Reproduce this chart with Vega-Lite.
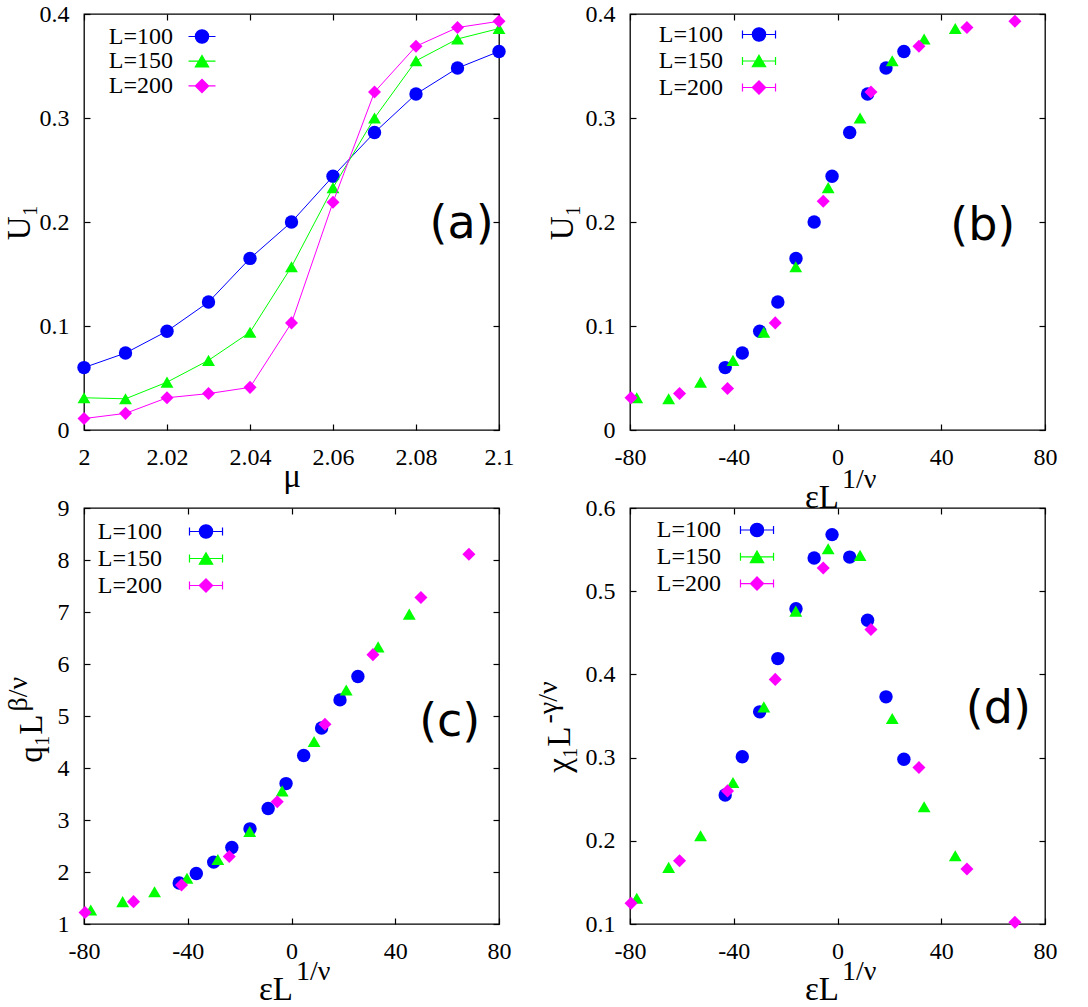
{
  "$schema": "https://vega.github.io/schema/vega-lite/v6.json",
  "background": "white",
  "padding": {"left": 2, "top": 1, "right": 0, "bottom": 0},
  "columns": 2,
  "spacing": {"row": 78, "column": 131},
  "bounds": "flush",
  "resolve": {
    "scale": {"color": "independent", "stroke": "independent", "shape": "independent"},
    "legend": {"color": "independent", "stroke": "independent", "shape": "independent"}
  },
  "config": {
    "view": {"stroke": "black", "strokeWidth": 1.3},
    "axis": {
      "labelFont": "Liberation Serif", "labelFontSize": 24, "labelColor": "black",
      "titleFont": "Liberation Serif", "titleFontSize": 33, "titleColor": "black", "titleFontWeight": "normal",
      "domain": false, "grid": false, "tickColor": "black", "tickWidth": 1.2,
      "labelFlush": false, "labelOverlap": false, "labelBound": false
    },
    "legend": {
      "orient": "none", "title": null, "padding": 0,
      "labelFont": "Liberation Serif", "labelFontSize": 24, "labelColor": "black", "labelAlign": "right", "labelLimit": 300,
      "symbolSize": 196, "symbolStrokeWidth": 1.2, "symbolOpacity": 1
    }
  },
  "datasets": {
    "a": [
      {"L": "L=100", "x": 2.00, "y": 0.060}, {"L": "L=100", "x": 2.01, "y": 0.074}, {"L": "L=100", "x": 2.02, "y": 0.095},
      {"L": "L=100", "x": 2.03, "y": 0.123}, {"L": "L=100", "x": 2.04, "y": 0.165}, {"L": "L=100", "x": 2.05, "y": 0.200},
      {"L": "L=100", "x": 2.06, "y": 0.244}, {"L": "L=100", "x": 2.07, "y": 0.286}, {"L": "L=100", "x": 2.08, "y": 0.323},
      {"L": "L=100", "x": 2.09, "y": 0.348}, {"L": "L=100", "x": 2.10, "y": 0.364},
      {"L": "L=150", "x": 2.00, "y": 0.031}, {"L": "L=150", "x": 2.01, "y": 0.030}, {"L": "L=150", "x": 2.02, "y": 0.046},
      {"L": "L=150", "x": 2.03, "y": 0.067}, {"L": "L=150", "x": 2.04, "y": 0.094}, {"L": "L=150", "x": 2.05, "y": 0.157},
      {"L": "L=150", "x": 2.06, "y": 0.233}, {"L": "L=150", "x": 2.07, "y": 0.300}, {"L": "L=150", "x": 2.08, "y": 0.355},
      {"L": "L=150", "x": 2.09, "y": 0.376}, {"L": "L=150", "x": 2.10, "y": 0.386},
      {"L": "L=200", "x": 2.00, "y": 0.011}, {"L": "L=200", "x": 2.01, "y": 0.016}, {"L": "L=200", "x": 2.02, "y": 0.031},
      {"L": "L=200", "x": 2.03, "y": 0.035}, {"L": "L=200", "x": 2.04, "y": 0.041}, {"L": "L=200", "x": 2.05, "y": 0.103},
      {"L": "L=200", "x": 2.06, "y": 0.219}, {"L": "L=200", "x": 2.07, "y": 0.325}, {"L": "L=200", "x": 2.08, "y": 0.369},
      {"L": "L=200", "x": 2.09, "y": 0.387}, {"L": "L=200", "x": 2.10, "y": 0.393}
    ],
    "b": [
      {"L": "L=100", "x": -43.3, "y": 0.060}, {"L": "L=100", "x": -36.7, "y": 0.074}, {"L": "L=100", "x": -30.0, "y": 0.095},
      {"L": "L=100", "x": -23.0, "y": 0.123}, {"L": "L=100", "x": -16.0, "y": 0.165}, {"L": "L=100", "x": -9.0, "y": 0.200},
      {"L": "L=100", "x": -2.1, "y": 0.244}, {"L": "L=100", "x": 4.7, "y": 0.286}, {"L": "L=100", "x": 11.6, "y": 0.323},
      {"L": "L=100", "x": 18.7, "y": 0.348}, {"L": "L=100", "x": 25.6, "y": 0.364},
      {"L": "L=150", "x": -77.4, "y": 0.031}, {"L": "L=150", "x": -65.1, "y": 0.030}, {"L": "L=150", "x": -52.8, "y": 0.046},
      {"L": "L=150", "x": -40.3, "y": 0.067}, {"L": "L=150", "x": -28.4, "y": 0.094}, {"L": "L=150", "x": -16.1, "y": 0.157},
      {"L": "L=150", "x": -3.6, "y": 0.233}, {"L": "L=150", "x": 8.7, "y": 0.300}, {"L": "L=150", "x": 21.1, "y": 0.355},
      {"L": "L=150", "x": 33.4, "y": 0.376}, {"L": "L=150", "x": 45.4, "y": 0.386},
      {"L": "L=200", "x": -79.6, "y": 0.031}, {"L": "L=200", "x": -60.9, "y": 0.035}, {"L": "L=200", "x": -42.4, "y": 0.040},
      {"L": "L=200", "x": -24.0, "y": 0.103}, {"L": "L=200", "x": -5.5, "y": 0.220}, {"L": "L=200", "x": 12.9, "y": 0.325},
      {"L": "L=200", "x": 31.4, "y": 0.369}, {"L": "L=200", "x": 49.9, "y": 0.387}, {"L": "L=200", "x": 68.4, "y": 0.393}
    ],
    "c": [
      {"L": "L=100", "x": -43.3, "y": 1.79}, {"L": "L=100", "x": -36.7, "y": 1.97}, {"L": "L=100", "x": -30.0, "y": 2.19},
      {"L": "L=100", "x": -23.0, "y": 2.47}, {"L": "L=100", "x": -16.0, "y": 2.83}, {"L": "L=100", "x": -9.0, "y": 3.22},
      {"L": "L=100", "x": -2.1, "y": 3.70}, {"L": "L=100", "x": 4.7, "y": 4.24}, {"L": "L=100", "x": 11.6, "y": 4.77},
      {"L": "L=100", "x": 18.7, "y": 5.31}, {"L": "L=100", "x": 25.6, "y": 5.76},
      {"L": "L=150", "x": -77.4, "y": 1.27}, {"L": "L=150", "x": -65.1, "y": 1.43}, {"L": "L=150", "x": -52.8, "y": 1.62},
      {"L": "L=150", "x": -40.3, "y": 1.88}, {"L": "L=150", "x": -28.4, "y": 2.24}, {"L": "L=150", "x": -16.1, "y": 2.78},
      {"L": "L=150", "x": -3.6, "y": 3.56}, {"L": "L=150", "x": 8.7, "y": 4.51}, {"L": "L=150", "x": 21.1, "y": 5.50},
      {"L": "L=150", "x": 33.4, "y": 6.33}, {"L": "L=150", "x": 45.4, "y": 6.96},
      {"L": "L=200", "x": -79.6, "y": 1.22}, {"L": "L=200", "x": -60.9, "y": 1.43}, {"L": "L=200", "x": -42.4, "y": 1.75},
      {"L": "L=200", "x": -24.0, "y": 2.30}, {"L": "L=200", "x": -5.5, "y": 3.35}, {"L": "L=200", "x": 12.9, "y": 4.84},
      {"L": "L=200", "x": 31.4, "y": 6.18}, {"L": "L=200", "x": 49.9, "y": 7.28}, {"L": "L=200", "x": 68.4, "y": 8.11}
    ],
    "d": [
      {"L": "L=100", "x": -43.3, "y": 0.255}, {"L": "L=100", "x": -36.7, "y": 0.301}, {"L": "L=100", "x": -30.0, "y": 0.355},
      {"L": "L=100", "x": -23.0, "y": 0.419}, {"L": "L=100", "x": -16.0, "y": 0.479}, {"L": "L=100", "x": -9.0, "y": 0.540},
      {"L": "L=100", "x": -2.1, "y": 0.568}, {"L": "L=100", "x": 4.7, "y": 0.541}, {"L": "L=100", "x": 11.6, "y": 0.465},
      {"L": "L=100", "x": 18.7, "y": 0.373}, {"L": "L=100", "x": 25.6, "y": 0.298},
      {"L": "L=150", "x": -77.4, "y": 0.131}, {"L": "L=150", "x": -65.1, "y": 0.168}, {"L": "L=150", "x": -52.8, "y": 0.206},
      {"L": "L=150", "x": -40.3, "y": 0.270}, {"L": "L=150", "x": -28.4, "y": 0.361}, {"L": "L=150", "x": -16.1, "y": 0.476},
      {"L": "L=150", "x": -3.6, "y": 0.551}, {"L": "L=150", "x": 8.7, "y": 0.543}, {"L": "L=150", "x": 21.1, "y": 0.347},
      {"L": "L=150", "x": 33.4, "y": 0.241}, {"L": "L=150", "x": 45.4, "y": 0.182},
      {"L": "L=200", "x": -79.6, "y": 0.125}, {"L": "L=200", "x": -60.9, "y": 0.176}, {"L": "L=200", "x": -42.4, "y": 0.260},
      {"L": "L=200", "x": -24.0, "y": 0.394}, {"L": "L=200", "x": -5.5, "y": 0.528}, {"L": "L=200", "x": 12.9, "y": 0.454},
      {"L": "L=200", "x": 31.4, "y": 0.288}, {"L": "L=200", "x": 49.9, "y": 0.166}, {"L": "L=200", "x": 68.4, "y": 0.102}
    ]
  },
  "concat": [
    {
      "width": 415, "height": 416,
      "data": {"name": "a"},
      "resolve": {"axis": {"x": "independent", "y": "independent"}},
      "layer": [
        {
          "mark": {"type": "point", "opacity": 0},
          "encoding": {
            "x": {"field": "x", "type": "quantitative", "scale": {"domain": [2, 2.1], "nice": false, "zero": false},
              "axis": {"orient": "bottom", "values": [2, 2.02, 2.04, 2.06, 2.08, 2.1], "labelExpr": "toString(datum.value)", "ticks": false, "labelPadding": 15,
                "title": "μ", "titleAlign": "center", "titleBaseline": "alphabetic", "titleX": 207.5, "titleY": 56}},
            "y": {"field": "y", "type": "quantitative", "scale": {"domain": [0, 0.4], "nice": false, "zero": false},
              "axis": {"orient": "left", "values": [0, 0.1, 0.2, 0.3, 0.4], "labelExpr": "toString(datum.value)", "ticks": false, "labelPadding": 15,
                "title": "U₁", "titleAlign": "center", "titleBaseline": "alphabetic", "titleX": -55, "titleY": 208}}
          }
        },
        {
          "mark": {"type": "point", "opacity": 0},
          "encoding": {
            "x": {"field": "x", "type": "quantitative", "scale": {"domain": [2, 2.1], "nice": false, "zero": false},
              "axis": {"orient": "top", "values": [2, 2.02, 2.04, 2.06, 2.08, 2.1], "labels": false, "tickSize": -6, "title": null}},
            "y": {"field": "y", "type": "quantitative", "scale": {"domain": [0, 0.4], "nice": false, "zero": false},
              "axis": {"orient": "right", "values": [0, 0.1, 0.2, 0.3, 0.4], "labels": false, "tickSize": -6, "title": null}}
          }
        },
        {
          "mark": {"type": "point", "opacity": 0},
          "encoding": {
            "x": {"field": "x", "type": "quantitative", "scale": {"domain": [2, 2.1], "nice": false, "zero": false},
              "axis": {"orient": "bottom", "values": [2, 2.02, 2.04, 2.06, 2.08, 2.1], "labels": false, "tickSize": -6, "title": null}},
            "y": {"field": "y", "type": "quantitative", "scale": {"domain": [0, 0.4], "nice": false, "zero": false},
              "axis": {"orient": "left", "values": [0, 0.1, 0.2, 0.3, 0.4], "labels": false, "tickSize": -6, "title": null}}
          }
        },
        {
          "transform": [{"filter": "false"}],
          "mark": {"type": "point", "filled": true},
          "encoding": {
            "x": {"field": "x", "type": "quantitative", "scale": {"domain": [2, 2.1], "nice": false, "zero": false}, "axis": null},
            "y": {"field": "y", "type": "quantitative", "scale": {"domain": [0, 0.4], "nice": false, "zero": false}, "axis": null},
            "color": {"field": "L", "type": "nominal", "scale": {"domain": ["L=100", "L=150", "L=200"], "range": ["#0000ff", "#00ff00", "#ff00ff"]},
              "legend": {"legendX": 106, "legendY": 10.5, "rowPadding": 0.7, "labelOffset": -41}},
            "stroke": {"field": "L", "type": "nominal", "scale": {"domain": ["L=100", "L=150", "L=200"], "range": ["#0000ff", "#00ff00", "#ff00ff"]}},
            "shape": {"field": "L", "type": "nominal", "scale": {"domain": ["L=100", "L=150", "L=200"], "range": [
              "M-1.93,0H1.93M-0.95,0A0.95,0.95,0,1,0,0.95,0A0.95,0.95,0,1,0,-0.95,0Z",
              "M-1.93,0H1.93M0,-0.82L0.95,0.82L-0.95,0.82Z",
              "M-1.93,0H1.93M-0.95,0L0,-0.95L0.95,0L0,0.95Z"]}}
          }
        },
        {
          "transform": [{"filter": "datum.L === 'L=100'"}],
          "mark": {"type": "line", "strokeWidth": 1, "color": "#0000ff"},
          "encoding": {
            "x": {"field": "x", "type": "quantitative", "scale": {"domain": [2, 2.1], "nice": false, "zero": false}, "axis": null},
            "y": {"field": "y", "type": "quantitative", "scale": {"domain": [0, 0.4], "nice": false, "zero": false}, "axis": null}
          }
        },
        {
          "transform": [{"filter": "datum.L === 'L=100'"}],
          "mark": {"type": "point", "filled": true, "size": 180, "opacity": 1, "shape": "circle", "color": "#0000ff"},
          "encoding": {
            "x": {"field": "x", "type": "quantitative", "scale": {"domain": [2, 2.1], "nice": false, "zero": false}, "axis": null},
            "y": {"field": "y", "type": "quantitative", "scale": {"domain": [0, 0.4], "nice": false, "zero": false}, "axis": null}
          }
        },
        {
          "transform": [{"filter": "datum.L === 'L=150'"}],
          "mark": {"type": "line", "strokeWidth": 1, "color": "#00ff00"},
          "encoding": {
            "x": {"field": "x", "type": "quantitative", "scale": {"domain": [2, 2.1], "nice": false, "zero": false}, "axis": null},
            "y": {"field": "y", "type": "quantitative", "scale": {"domain": [0, 0.4], "nice": false, "zero": false}, "axis": null}
          }
        },
        {
          "transform": [{"filter": "datum.L === 'L=150'"}],
          "mark": {"type": "point", "filled": true, "size": 165, "opacity": 1, "shape": "triangle-up", "color": "#00ff00"},
          "encoding": {
            "x": {"field": "x", "type": "quantitative", "scale": {"domain": [2, 2.1], "nice": false, "zero": false}, "axis": null},
            "y": {"field": "y", "type": "quantitative", "scale": {"domain": [0, 0.4], "nice": false, "zero": false}, "axis": null}
          }
        },
        {
          "transform": [{"filter": "datum.L === 'L=200'"}],
          "mark": {"type": "line", "strokeWidth": 1, "color": "#ff00ff"},
          "encoding": {
            "x": {"field": "x", "type": "quantitative", "scale": {"domain": [2, 2.1], "nice": false, "zero": false}, "axis": null},
            "y": {"field": "y", "type": "quantitative", "scale": {"domain": [0, 0.4], "nice": false, "zero": false}, "axis": null}
          }
        },
        {
          "transform": [{"filter": "datum.L === 'L=200'"}],
          "mark": {"type": "point", "filled": true, "size": 170, "opacity": 1, "shape": "diamond", "color": "#ff00ff"},
          "encoding": {
            "x": {"field": "x", "type": "quantitative", "scale": {"domain": [2, 2.1], "nice": false, "zero": false}, "axis": null},
            "y": {"field": "y", "type": "quantitative", "scale": {"domain": [0, 0.4], "nice": false, "zero": false}, "axis": null}
          }
        },
        {
          "data": {"values": [{}]},
          "mark": {"type": "text", "font": "DejaVu Sans", "fontSize": 46, "align": "center", "baseline": "middle", "color": "black"},
          "encoding": {
            "x": {"datum": 2.091, "type": "quantitative", "scale": {"domain": [2, 2.1], "nice": false, "zero": false}, "axis": null},
            "y": {"datum": 0.198, "type": "quantitative", "scale": {"domain": [0, 0.4], "nice": false, "zero": false}, "axis": null},
            "text": {"value": "(a)"}
          }
        }
      ]
    },
    {
      "width": 415, "height": 416,
      "data": {"name": "b"},
      "resolve": {"axis": {"x": "independent", "y": "independent"}},
      "layer": [
        {
          "mark": {"type": "point", "opacity": 0},
          "encoding": {
            "x": {"field": "x", "type": "quantitative", "scale": {"domain": [-80, 80], "nice": false, "zero": false},
              "axis": {"orient": "bottom", "values": [-80, -40, 0, 40, 80], "labelExpr": "toString(datum.value)", "ticks": false, "labelPadding": 15,
                "title": "εL", "titleAlign": "right", "titleBaseline": "alphabetic", "titleX": 208.5, "titleY": 77}},
            "y": {"field": "y", "type": "quantitative", "scale": {"domain": [0, 0.4], "nice": false, "zero": false},
              "axis": {"orient": "left", "values": [0, 0.1, 0.2, 0.3, 0.4], "labelExpr": "toString(datum.value)", "ticks": false, "labelPadding": 15,
                "title": "U₁", "titleAlign": "center", "titleBaseline": "alphabetic", "titleX": -58, "titleY": 208}}
          }
        },
        {
          "mark": {"type": "point", "opacity": 0},
          "encoding": {
            "x": {"field": "x", "type": "quantitative", "scale": {"domain": [-80, 80], "nice": false, "zero": false},
              "axis": {"orient": "top", "values": [-80, -40, 0, 40, 80], "labels": false, "tickSize": -6, "title": null}},
            "y": {"field": "y", "type": "quantitative", "scale": {"domain": [0, 0.4], "nice": false, "zero": false},
              "axis": {"orient": "right", "values": [0, 0.1, 0.2, 0.3, 0.4], "labels": false, "tickSize": -6, "title": null}}
          }
        },
        {
          "mark": {"type": "point", "opacity": 0},
          "encoding": {
            "x": {"field": "x", "type": "quantitative", "scale": {"domain": [-80, 80], "nice": false, "zero": false},
              "axis": {"orient": "bottom", "values": [-80, -40, 0, 40, 80], "labels": false, "tickSize": -6,
                "title": "1/ν", "titleFontSize": 28, "titleAlign": "left", "titleBaseline": "alphabetic", "titleX": 211.5, "titleY": 57}},
            "y": {"field": "y", "type": "quantitative", "scale": {"domain": [0, 0.4], "nice": false, "zero": false},
              "axis": {"orient": "left", "values": [0, 0.1, 0.2, 0.3, 0.4], "labels": false, "tickSize": -6, "title": null}}
          }
        },
        {
          "transform": [{"filter": "false"}],
          "mark": {"type": "point", "filled": true},
          "encoding": {
            "x": {"field": "x", "type": "quantitative", "scale": {"domain": [-80, 80], "nice": false, "zero": false}, "axis": null},
            "y": {"field": "y", "type": "quantitative", "scale": {"domain": [0, 0.4], "nice": false, "zero": false}, "axis": null},
            "color": {"field": "L", "type": "nominal", "scale": {"domain": ["L=100", "L=150", "L=200"], "range": ["#0000ff", "#00ff00", "#ff00ff"]},
              "legend": {"legendX": 117, "legendY": 8.5, "rowPadding": 2.5, "labelOffset": -48}},
            "stroke": {"field": "L", "type": "nominal", "scale": {"domain": ["L=100", "L=150", "L=200"], "range": ["#0000ff", "#00ff00", "#ff00ff"]}},
            "shape": {"field": "L", "type": "nominal", "scale": {"domain": ["L=100", "L=150", "L=200"], "range": [
              "M-2.36,-0.57V0.57M-2.36,0H2.36M2.36,-0.57V0.57M-0.95,0A0.95,0.95,0,1,0,0.95,0A0.95,0.95,0,1,0,-0.95,0Z",
              "M-2.36,-0.57V0.57M-2.36,0H2.36M2.36,-0.57V0.57M0,-0.82L0.95,0.82L-0.95,0.82Z",
              "M-2.36,-0.57V0.57M-2.36,0H2.36M2.36,-0.57V0.57M-0.95,0L0,-0.95L0.95,0L0,0.95Z"]}}
          }
        },
        {
          "transform": [{"filter": "datum.L === 'L=100'"}],
          "mark": {"type": "point", "filled": true, "size": 180, "opacity": 1, "shape": "circle", "color": "#0000ff"},
          "encoding": {
            "x": {"field": "x", "type": "quantitative", "scale": {"domain": [-80, 80], "nice": false, "zero": false}, "axis": null},
            "y": {"field": "y", "type": "quantitative", "scale": {"domain": [0, 0.4], "nice": false, "zero": false}, "axis": null}
          }
        },
        {
          "transform": [{"filter": "datum.L === 'L=150'"}],
          "mark": {"type": "point", "filled": true, "size": 165, "opacity": 1, "shape": "triangle-up", "color": "#00ff00"},
          "encoding": {
            "x": {"field": "x", "type": "quantitative", "scale": {"domain": [-80, 80], "nice": false, "zero": false}, "axis": null},
            "y": {"field": "y", "type": "quantitative", "scale": {"domain": [0, 0.4], "nice": false, "zero": false}, "axis": null}
          }
        },
        {
          "transform": [{"filter": "datum.L === 'L=200'"}],
          "mark": {"type": "point", "filled": true, "size": 170, "opacity": 1, "shape": "diamond", "color": "#ff00ff"},
          "encoding": {
            "x": {"field": "x", "type": "quantitative", "scale": {"domain": [-80, 80], "nice": false, "zero": false}, "axis": null},
            "y": {"field": "y", "type": "quantitative", "scale": {"domain": [0, 0.4], "nice": false, "zero": false}, "axis": null}
          }
        },
        {
          "data": {"values": [{}]},
          "mark": {"type": "text", "font": "DejaVu Sans", "fontSize": 46, "align": "center", "baseline": "middle", "color": "black"},
          "encoding": {
            "x": {"datum": 56, "type": "quantitative", "scale": {"domain": [-80, 80], "nice": false, "zero": false}, "axis": null},
            "y": {"datum": 0.196, "type": "quantitative", "scale": {"domain": [0, 0.4], "nice": false, "zero": false}, "axis": null},
            "text": {"value": "(b)"}
          }
        }
      ]
    },
    {
      "width": 415, "height": 416,
      "data": {"name": "c"},
      "resolve": {"axis": {"x": "independent", "y": "independent"}},
      "layer": [
        {
          "mark": {"type": "point", "opacity": 0},
          "encoding": {
            "x": {"field": "x", "type": "quantitative", "scale": {"domain": [-80, 80], "nice": false, "zero": false},
              "axis": {"orient": "bottom", "values": [-80, -40, 0, 40, 80], "labelExpr": "toString(datum.value)", "ticks": false, "labelPadding": 15,
                "title": "εL", "titleAlign": "right", "titleBaseline": "alphabetic", "titleX": 208.5, "titleY": 75}},
            "y": {"field": "y", "type": "quantitative", "scale": {"domain": [1, 9], "nice": false, "zero": false},
              "axis": {"orient": "left", "values": [1, 2, 3, 4, 5, 6, 7, 8, 9], "labelExpr": "toString(datum.value)", "ticks": false, "labelPadding": 15,
                "title": "q₁L", "titleAlign": "right", "titleBaseline": "alphabetic", "titleX": -43, "titleY": 206}}
          }
        },
        {
          "mark": {"type": "point", "opacity": 0},
          "encoding": {
            "x": {"field": "x", "type": "quantitative", "scale": {"domain": [-80, 80], "nice": false, "zero": false},
              "axis": {"orient": "top", "values": [-80, -40, 0, 40, 80], "labels": false, "tickSize": -6, "title": null}},
            "y": {"field": "y", "type": "quantitative", "scale": {"domain": [1, 9], "nice": false, "zero": false},
              "axis": {"orient": "right", "values": [1, 2, 3, 4, 5, 6, 7, 8, 9], "labels": false, "tickSize": -6, "title": null}}
          }
        },
        {
          "mark": {"type": "point", "opacity": 0},
          "encoding": {
            "x": {"field": "x", "type": "quantitative", "scale": {"domain": [-80, 80], "nice": false, "zero": false},
              "axis": {"orient": "bottom", "values": [-80, -40, 0, 40, 80], "labels": false, "tickSize": -6,
                "title": "1/ν", "titleFontSize": 28, "titleAlign": "left", "titleBaseline": "alphabetic", "titleX": 211.5, "titleY": 55}},
            "y": {"field": "y", "type": "quantitative", "scale": {"domain": [1, 9], "nice": false, "zero": false},
              "axis": {"orient": "left", "values": [1, 2, 3, 4, 5, 6, 7, 8, 9], "labels": false, "tickSize": -6,
                "title": "β/ν", "titleFontSize": 28, "titleAlign": "left", "titleBaseline": "alphabetic", "titleX": -58, "titleY": 203}}
          }
        },
        {
          "transform": [{"filter": "false"}],
          "mark": {"type": "point", "filled": true},
          "encoding": {
            "x": {"field": "x", "type": "quantitative", "scale": {"domain": [-80, 80], "nice": false, "zero": false}, "axis": null},
            "y": {"field": "y", "type": "quantitative", "scale": {"domain": [1, 9], "nice": false, "zero": false}, "axis": null},
            "color": {"field": "L", "type": "nominal", "scale": {"domain": ["L=100", "L=150", "L=200"], "range": ["#0000ff", "#00ff00", "#ff00ff"]},
              "legend": {"legendX": 110, "legendY": 11.5, "rowPadding": 3, "labelOffset": -56}},
            "stroke": {"field": "L", "type": "nominal", "scale": {"domain": ["L=100", "L=150", "L=200"], "range": ["#0000ff", "#00ff00", "#ff00ff"]}},
            "shape": {"field": "L", "type": "nominal", "scale": {"domain": ["L=100", "L=150", "L=200"], "range": [
              "M-2.36,-0.57V0.57M-2.36,0H2.36M2.36,-0.57V0.57M-0.95,0A0.95,0.95,0,1,0,0.95,0A0.95,0.95,0,1,0,-0.95,0Z",
              "M-2.36,-0.57V0.57M-2.36,0H2.36M2.36,-0.57V0.57M0,-0.82L0.95,0.82L-0.95,0.82Z",
              "M-2.36,-0.57V0.57M-2.36,0H2.36M2.36,-0.57V0.57M-0.95,0L0,-0.95L0.95,0L0,0.95Z"]}}
          }
        },
        {
          "transform": [{"filter": "datum.L === 'L=100'"}],
          "mark": {"type": "point", "filled": true, "size": 180, "opacity": 1, "shape": "circle", "color": "#0000ff"},
          "encoding": {
            "x": {"field": "x", "type": "quantitative", "scale": {"domain": [-80, 80], "nice": false, "zero": false}, "axis": null},
            "y": {"field": "y", "type": "quantitative", "scale": {"domain": [1, 9], "nice": false, "zero": false}, "axis": null}
          }
        },
        {
          "transform": [{"filter": "datum.L === 'L=150'"}],
          "mark": {"type": "point", "filled": true, "size": 165, "opacity": 1, "shape": "triangle-up", "color": "#00ff00"},
          "encoding": {
            "x": {"field": "x", "type": "quantitative", "scale": {"domain": [-80, 80], "nice": false, "zero": false}, "axis": null},
            "y": {"field": "y", "type": "quantitative", "scale": {"domain": [1, 9], "nice": false, "zero": false}, "axis": null}
          }
        },
        {
          "transform": [{"filter": "datum.L === 'L=200'"}],
          "mark": {"type": "point", "filled": true, "size": 170, "opacity": 1, "shape": "diamond", "color": "#ff00ff"},
          "encoding": {
            "x": {"field": "x", "type": "quantitative", "scale": {"domain": [-80, 80], "nice": false, "zero": false}, "axis": null},
            "y": {"field": "y", "type": "quantitative", "scale": {"domain": [1, 9], "nice": false, "zero": false}, "axis": null}
          }
        },
        {
          "data": {"values": [{}]},
          "mark": {"type": "text", "font": "DejaVu Sans", "fontSize": 46, "align": "center", "baseline": "middle", "color": "black"},
          "encoding": {
            "x": {"datum": 61, "type": "quantitative", "scale": {"domain": [-80, 80], "nice": false, "zero": false}, "axis": null},
            "y": {"datum": 4.89, "type": "quantitative", "scale": {"domain": [1, 9], "nice": false, "zero": false}, "axis": null},
            "text": {"value": "(c)"}
          }
        }
      ]
    },
    {
      "width": 415, "height": 416,
      "data": {"name": "d"},
      "resolve": {"axis": {"x": "independent", "y": "independent"}},
      "layer": [
        {
          "mark": {"type": "point", "opacity": 0},
          "encoding": {
            "x": {"field": "x", "type": "quantitative", "scale": {"domain": [-80, 80], "nice": false, "zero": false},
              "axis": {"orient": "bottom", "values": [-80, -40, 0, 40, 80], "labelExpr": "toString(datum.value)", "ticks": false, "labelPadding": 15,
                "title": "εL", "titleAlign": "right", "titleBaseline": "alphabetic", "titleX": 208.5, "titleY": 75}},
            "y": {"field": "y", "type": "quantitative", "scale": {"domain": [0.1, 0.6], "nice": false, "zero": false},
              "axis": {"orient": "left", "values": [0.1, 0.2, 0.3, 0.4, 0.5, 0.6], "labelExpr": "toString(datum.value)", "ticks": false, "labelPadding": 15,
                "title": "χ₁L", "titleAlign": "right", "titleBaseline": "alphabetic", "titleX": -61, "titleY": 218}}
          }
        },
        {
          "mark": {"type": "point", "opacity": 0},
          "encoding": {
            "x": {"field": "x", "type": "quantitative", "scale": {"domain": [-80, 80], "nice": false, "zero": false},
              "axis": {"orient": "top", "values": [-80, -40, 0, 40, 80], "labels": false, "tickSize": -6, "title": null}},
            "y": {"field": "y", "type": "quantitative", "scale": {"domain": [0.1, 0.6], "nice": false, "zero": false},
              "axis": {"orient": "right", "values": [0.1, 0.2, 0.3, 0.4, 0.5, 0.6], "labels": false, "tickSize": -6, "title": null}}
          }
        },
        {
          "mark": {"type": "point", "opacity": 0},
          "encoding": {
            "x": {"field": "x", "type": "quantitative", "scale": {"domain": [-80, 80], "nice": false, "zero": false},
              "axis": {"orient": "bottom", "values": [-80, -40, 0, 40, 80], "labels": false, "tickSize": -6,
                "title": "1/ν", "titleFontSize": 28, "titleAlign": "left", "titleBaseline": "alphabetic", "titleX": 211.5, "titleY": 55}},
            "y": {"field": "y", "type": "quantitative", "scale": {"domain": [0.1, 0.6], "nice": false, "zero": false},
              "axis": {"orient": "left", "values": [0.1, 0.2, 0.3, 0.4, 0.5, 0.6], "labels": false, "tickSize": -6,
                "title": "-γ/ν", "titleFontSize": 28, "titleAlign": "left", "titleBaseline": "alphabetic", "titleX": -74, "titleY": 215}}
          }
        },
        {
          "transform": [{"filter": "false"}],
          "mark": {"type": "point", "filled": true},
          "encoding": {
            "x": {"field": "x", "type": "quantitative", "scale": {"domain": [-80, 80], "nice": false, "zero": false}, "axis": null},
            "y": {"field": "y", "type": "quantitative", "scale": {"domain": [0.1, 0.6], "nice": false, "zero": false}, "axis": null},
            "color": {"field": "L", "type": "nominal", "scale": {"domain": ["L=100", "L=150", "L=200"], "range": ["#0000ff", "#00ff00", "#ff00ff"]},
              "legend": {"legendX": 115, "legendY": 10, "rowPadding": 2.8, "labelOffset": -48}},
            "stroke": {"field": "L", "type": "nominal", "scale": {"domain": ["L=100", "L=150", "L=200"], "range": ["#0000ff", "#00ff00", "#ff00ff"]}},
            "shape": {"field": "L", "type": "nominal", "scale": {"domain": ["L=100", "L=150", "L=200"], "range": [
              "M-2.36,-0.57V0.57M-2.36,0H2.36M2.36,-0.57V0.57M-0.95,0A0.95,0.95,0,1,0,0.95,0A0.95,0.95,0,1,0,-0.95,0Z",
              "M-2.36,-0.57V0.57M-2.36,0H2.36M2.36,-0.57V0.57M0,-0.82L0.95,0.82L-0.95,0.82Z",
              "M-2.36,-0.57V0.57M-2.36,0H2.36M2.36,-0.57V0.57M-0.95,0L0,-0.95L0.95,0L0,0.95Z"]}}
          }
        },
        {
          "transform": [{"filter": "datum.L === 'L=100'"}],
          "mark": {"type": "point", "filled": true, "size": 180, "opacity": 1, "shape": "circle", "color": "#0000ff"},
          "encoding": {
            "x": {"field": "x", "type": "quantitative", "scale": {"domain": [-80, 80], "nice": false, "zero": false}, "axis": null},
            "y": {"field": "y", "type": "quantitative", "scale": {"domain": [0.1, 0.6], "nice": false, "zero": false}, "axis": null}
          }
        },
        {
          "transform": [{"filter": "datum.L === 'L=150'"}],
          "mark": {"type": "point", "filled": true, "size": 165, "opacity": 1, "shape": "triangle-up", "color": "#00ff00"},
          "encoding": {
            "x": {"field": "x", "type": "quantitative", "scale": {"domain": [-80, 80], "nice": false, "zero": false}, "axis": null},
            "y": {"field": "y", "type": "quantitative", "scale": {"domain": [0.1, 0.6], "nice": false, "zero": false}, "axis": null}
          }
        },
        {
          "transform": [{"filter": "datum.L === 'L=200'"}],
          "mark": {"type": "point", "filled": true, "size": 170, "opacity": 1, "shape": "diamond", "color": "#ff00ff"},
          "encoding": {
            "x": {"field": "x", "type": "quantitative", "scale": {"domain": [-80, 80], "nice": false, "zero": false}, "axis": null},
            "y": {"field": "y", "type": "quantitative", "scale": {"domain": [0.1, 0.6], "nice": false, "zero": false}, "axis": null}
          }
        },
        {
          "data": {"values": [{}]},
          "mark": {"type": "text", "font": "DejaVu Sans", "fontSize": 46, "align": "center", "baseline": "middle", "color": "black"},
          "encoding": {
            "x": {"datum": 62, "type": "quantitative", "scale": {"domain": [-80, 80], "nice": false, "zero": false}, "axis": null},
            "y": {"datum": 0.358, "type": "quantitative", "scale": {"domain": [0.1, 0.6], "nice": false, "zero": false}, "axis": null},
            "text": {"value": "(d)"}
          }
        }
      ]
    }
  ]
}
